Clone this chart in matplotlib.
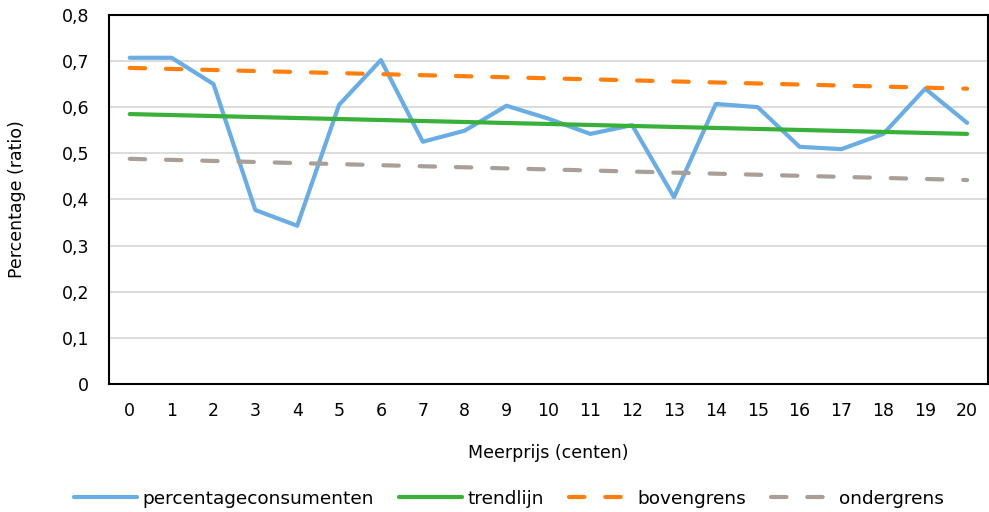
import matplotlib.pyplot as plt
from matplotlib.ticker import FuncFormatter

meerprijs = list(range(21))
percentage = [0.707, 0.707, 0.650, 0.377, 0.343, 0.605, 0.702, 0.525, 0.549, 0.603,
              0.575, 0.542, 0.561, 0.405, 0.607, 0.600, 0.514, 0.509, 0.542, 0.640, 0.566]
trend_start, trend_end = 0.585, 0.542
boven_start, boven_end = 0.685, 0.640
onder_start, onder_end = 0.488, 0.442


def line(a, b):
    return [a + (b - a) * i / 20 for i in meerprijs]


trendlijn = line(trend_start, trend_end)
bovengrens = line(boven_start, boven_end)
ondergrens = line(onder_start, onder_end)

plt.rcParams['font.family'] = 'DejaVu Sans'
fig = plt.figure(figsize=(9.89, 5.12), dpi=100)
ax = fig.add_axes([0.110, 0.25, 0.889, 0.721])

ax.plot(meerprijs, percentage, color='#6aace4', lw=3.0, label='percentageconsumenten',
        solid_joinstyle='round', solid_capstyle='round')
ax.plot(meerprijs, trendlijn, color='#38b03a', lw=3.0, label='trendlijn', solid_capstyle='round')
ax.plot(meerprijs, bovengrens, color='#ff7f0e', lw=3.0, label='bovengrens',
        dashes=(3.7, 5.0), dash_capstyle='round')
ax.plot(meerprijs, ondergrens, color='#a8a098', lw=3.0, label='ondergrens',
        dashes=(3.7, 5.0), dash_capstyle='round')

ax.set_xlim(-0.5, 20.5)
ax.set_ylim(0, 0.8)
ax.set_xticks(meerprijs)
ax.set_yticks([i / 10 for i in range(9)])
ax.yaxis.set_major_formatter(FuncFormatter(lambda v, p: '0' if v == 0 else f'{v:.1f}'.replace('.', ',')))
ax.tick_params(length=0, labelsize=12.5, colors='black')
ax.tick_params(axis='x', pad=13)
ax.tick_params(axis='y', pad=14)
ax.grid(axis='y', color='#d9d9d9', lw=1.3)
ax.set_axisbelow(True)
for s in ax.spines.values():
    s.set_color('black')
    s.set_linewidth(1.5)

ax.set_xlabel('Meerprijs (centen)', fontsize=12.5, labelpad=17)
ax.set_ylabel('Percentage (ratio)', fontsize=12.5, labelpad=26)

fig.legend(loc='lower center', bbox_to_anchor=(0.515, -0.024), ncol=4, frameon=False,
           fontsize=13.3, handlelength=3.4, columnspacing=1.35, handletextpad=0.3)

fig.savefig('out.png', dpi=100)
